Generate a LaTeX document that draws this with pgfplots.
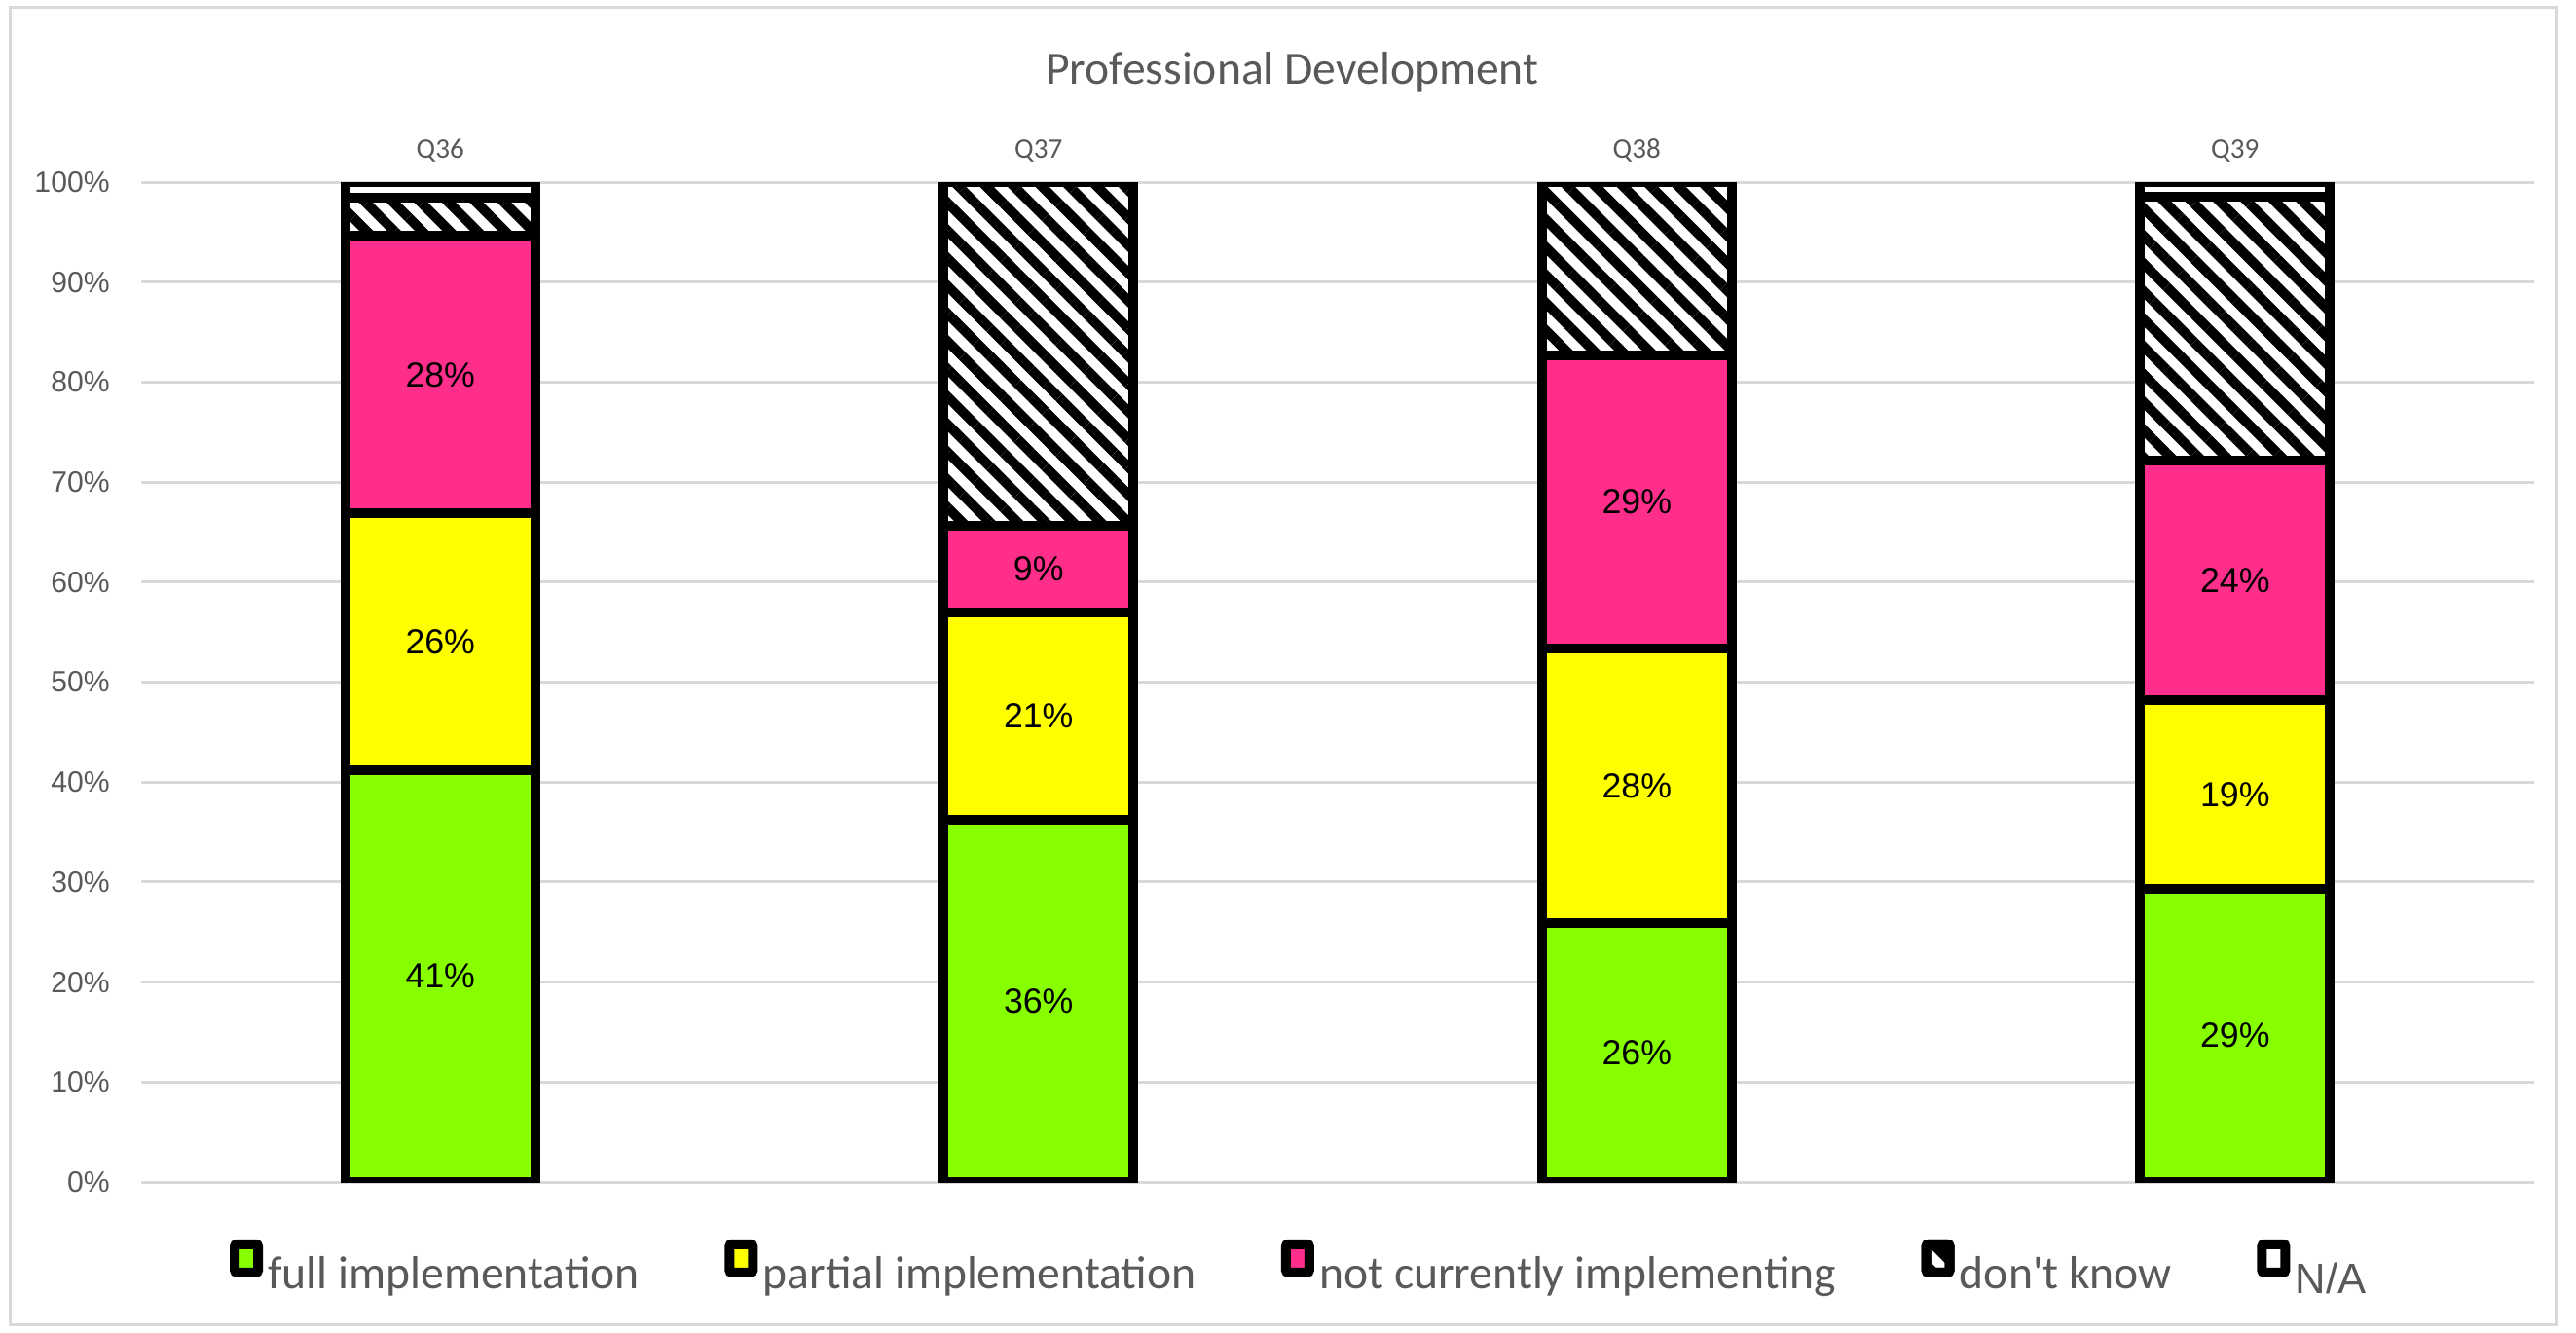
\documentclass[border=0pt]{standalone}
\usepackage{pgfplots}
\pgfplotsset{compat=1.18}
\usepackage{pgfplotstable}
\usetikzlibrary{patterns.meta}
\usepackage{fontspec}
\setmainfont{Carlito}
\newfontfamily\arialf{Liberation Sans}

\definecolor{fullgreen}{HTML}{88FF00}
\definecolor{partyellow}{HTML}{FFFF00}
\definecolor{notpink}{HTML}{FF2E8B}
\definecolor{gridgray}{HTML}{D9D9D9}
\definecolor{txtgray}{HTML}{595959}

% shares in percent, one row per question
\pgfplotstableread{
q  full partial notimpl dontknow na
0  41.2 25.7    27.7    3.8      1.6
1  36.2 20.8    8.6     34.4     0
2  25.9 27.5    29.3    17.3     0
3  29.3 18.9    24.0    26.3     1.5
}\pddata

\pgfplotsset{
  /pgf/number format/assume math mode=true,
  seg/.style={draw=black, line width=3.78pt},
  % stacked labels already sit in the middle of their segment
  lbl/.style={
    point meta=explicit,
    nodes near coords={\pgfmathprintnumber[fixed,precision=0]{\pgfplotspointmeta}\%},
    every node near coord/.append style={font=\arialf\fontsize{13.5}{16}\selectfont,
      text=black, anchor=center}},
}

\begin{document}
\begin{tikzpicture}
\useasboundingbox (-54.80pt,-58.20pt) rectangle (945.20pt,458.81pt);
\draw[gridgray, line width=1.1pt] (-51.0pt,-55.2pt) rectangle (937.6pt,455.8pt);
\begin{axis}[
  at={(0pt,0pt)}, anchor=south west,
  scale only axis,
  width=928.95pt, height=388.13pt,
  ybar stacked,
  bar width=73.7pt,
  xmin=-0.5, xmax=3.5,
  ymin=0, ymax=100,
  xtick=data,
  xticklabels={Q36,Q37,Q38,Q39},
  xticklabel pos=upper,
  xticklabel style={font=\fontsize{11}{13}\selectfont, text=txtgray, anchor=base, yshift=9.4pt},
  ytick={0,10,...,100},
  yticklabels={0\%,10\%,20\%,30\%,40\%,50\%,60\%,70\%,80\%,90\%,100\%},
  yticklabel style={font=\arialf\fontsize{11.4}{13}\selectfont, text=txtgray, anchor=east, xshift=-8.7pt},
  major tick length=0pt,
  axis line style={draw=none},
  ymajorgrids,
  grid style={gridgray, line width=1.13pt},
  title={Professional Development},
  title style={at={(0.481,1.0828)}, anchor=base, font=\fontsize{18}{22}\selectfont, text=txtgray},
  legend columns=5,
  legend style={at={(0.4845,-0.0862)}, anchor=center, draw=none, fill=none,
    font=\fontsize{18}{22}\selectfont, text=txtgray,
    /tikz/every even column/.append style={column sep=31pt}},
  every axis plot post/.append style={
    legend image code/.code={\draw[##1, line width=3.78pt, rounded corners=1pt] (0pt,0.6pt) rectangle (9.1pt,11.6pt);}},
]
\addplot+[seg, fill=fullgreen, lbl] table[x=q, y=full, meta=full] {\pddata};
\addlegendentry{full implementation}
\addplot+[seg, fill=partyellow, lbl] table[x=q, y=partial, meta=partial] {\pddata};
\addlegendentry{partial implementation}
\addplot+[seg, fill=notpink, lbl] table[x=q, y=notimpl, meta=notimpl] {\pddata};
\addlegendentry{not currently implementing}
\addplot+[seg, fill=white, postaction={pattern={Lines[angle=-45,distance=7.6pt,line width=3.8pt]}, pattern color=black}] table[x=q, y=dontknow] {\pddata};
\addlegendentry{don\textquotesingle t know}
\addplot+[seg, fill=white] table[x=q, y=na] {\pddata};
\addlegendentry{\raisebox{-4.9pt}{\arialf\fontsize{16.5}{20}\selectfont N/A}}
\end{axis}
\end{tikzpicture}
\end{document}
